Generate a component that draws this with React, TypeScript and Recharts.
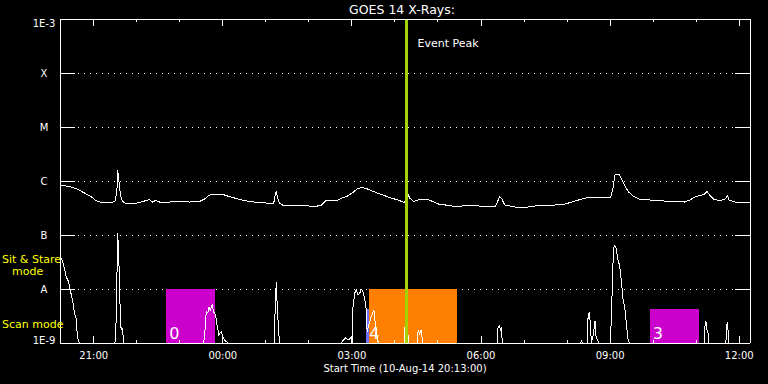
import React from 'react';
import { LineChart, Line, XAxis, YAxis, CartesianGrid, ReferenceArea, ReferenceLine } from 'recharts';

// Time axis: minutes after the start time 10-Aug-14 20:13:00
const TITLE = 'GOES 14 X-Rays:';
const START_LABEL = 'Start Time (10-Aug-14 20:13:00)';
const X_DOMAIN: [number, number] = [0, 962];

const hourTicks = [47, 107, 167, 227, 287, 347, 407, 467, 527, 587, 647, 707, 767, 827, 887, 947];
const majorTickValues = [47, 227, 407, 587, 767, 947];
const majorTickLabels = ['21:00', '00:00', '03:00', '06:00', '09:00', '12:00'];

const yTickValues = [1e-9, 1e-8, 1e-7, 1e-6, 1e-5, 1e-4, 1e-3];
const yTickLabels = ['1E-9', 'A', 'B', 'C', 'M', 'X', '1E-3'];

// 1-8 Angstrom channel (upper curve)
const upperTimes = [
  0, 7.5, 16, 24, 34, 44, 51, 58, 72, 77, 79.4, 80.5, 82, 84.3, 87, 91, 99.6, 108, 117.8, 124.7,
  129, 133, 138.7, 152.6, 166.6, 180.5, 194.5, 201.5, 208.5, 215.4, 225.2, 233.6, 243.3, 253, 264.3, 275.4,
  286.6, 295, 298, 300, 301.5, 303.3, 306, 310.3, 320, 334, 348, 359, 364.6, 370, 378.6, 385.7,
  392.6, 401, 409, 414.9, 421.9, 428.9, 438.7, 448.5, 459.6, 470.7, 480.5, 484, 487.5, 493, 501.5, 511.3,
  519.6, 529.4, 537.7, 550.3, 560, 571, 585, 599, 607.5, 610.3, 613, 616, 620, 627, 634, 648,
  662, 676, 690, 704, 714, 725, 736, 750, 764, 768, 771, 773.8, 779.4, 783.6, 787.8, 792,
  799, 808.5, 822.4, 836.4, 847.5, 861.5, 871, 878, 885, 892, 897.7, 902, 906, 911.6, 920, 927,
  930.8, 932.6, 941, 951, 962,
];
const upperFlux = [
  8.4e-7, 8.1e-7, 7.7e-7, 7.1e-7, 6.0e-7, 5.05e-7, 4.26e-7, 4.0e-7, 4.0e-7, 4.3e-7, 6.8e-7, 1.6e-6, 1.04e-6, 5.5e-7, 4.26e-7, 3.85e-7, 3.75e-7, 3.92e-7, 4.26e-7, 4.54e-7,
  4.08e-7, 4.35e-7, 4.08e-7, 4.08e-7, 4.17e-7, 4.08e-7, 4.17e-7, 4.64e-7, 5.5e-7, 5.74e-7, 5.74e-7, 5.27e-7, 4.84e-7, 4.45e-7, 4.17e-7, 4.0e-7,
  3.92e-7, 3.75e-7, 3.9e-7, 5.5e-7, 6.4e-7, 4.84e-7, 3.92e-7, 3.59e-7, 3.5e-7, 3.5e-7, 3.44e-7, 3.44e-7, 3.59e-7, 4.26e-7, 4.35e-7, 4.26e-7,
  4.84e-7, 5.27e-7, 6.25e-7, 7.26e-7, 7.55e-7, 7.1e-7, 6.25e-7, 5.6e-7, 4.95e-7, 4.45e-7, 4.0e-7, 6.25e-7, 4.84e-7, 4.17e-7, 4.54e-7, 4.64e-7,
  4.17e-7, 3.67e-7, 3.59e-7, 3.37e-7, 3.44e-7, 3.5e-7, 3.44e-7, 3.37e-7, 3.44e-7, 4.26e-7, 5.05e-7, 4.64e-7, 3.59e-7, 3.44e-7, 3.3e-7, 3.23e-7,
  3.44e-7, 3.59e-7, 3.59e-7, 3.75e-7, 4.08e-7, 4.54e-7, 4.95e-7, 4.95e-7, 4.95e-7, 5.05e-7, 7.4e-7, 1.32e-6, 1.32e-6, 1.04e-6, 8.1e-7, 6.4e-7,
  5.27e-7, 4.54e-7, 4.45e-7, 4.35e-7, 4.17e-7, 4.17e-7, 4.08e-7, 4.45e-7, 5.05e-7, 5.4e-7, 5.6e-7, 6.4e-7, 5.4e-7, 4.54e-7, 4.35e-7, 4.54e-7,
  5.4e-7, 4.45e-7, 4.08e-7, 4.0e-7, 3.92e-7,
];

// 0.5-4 Angstrom channel (lower curve)
const lowerTimes = [
  0, 3.8, 6.1, 8.5, 11, 13.1, 16.3, 18.7, 20, 22.5, 23.6, 24.7, 27,
  76.6, 78.3, 79.7, 80.5, 81.9, 82.9, 84, 85.3, 86.4, 87.5, 89.2,
  200, 201.5, 203.9, 206.1, 207.8, 209.4, 212.2, 214, 216.8, 218.6, 221.4, 224.8, 227, 229.4, 234,
  298.5, 300.1, 301.5, 302.9, 304.7, 306,
  392, 394, 398.2, 402.4, 405.2, 407.6, 408.4, 410.8, 413.2, 415.7, 417.8, 420.1, 422.4, 424.8, 427.1, 428.2,
  430.3, 433.8, 437.7, 439.4, 441, 442.4, 443.8,
  479.8, 481, 482, 484, 485.4,
  498, 499.4, 501.5, 503.6, 505.7,
  610, 610.7, 612.4, 614.5, 615.5, 616.6,
  726, 727, 728,
  735.2, 736.3, 738, 739.7, 740.8, 742.2, 743.5, 746, 747, 749.2, 751.2,
  767.3, 769, 770.3, 771.7, 773.1, 774.9, 775.9, 778.1, 780.5, 782.9, 785.1, 787.5, 789.8, 792.1, 793.8,
  898.4, 899.5, 900.5, 902, 903.7, 904.7,
  928.4, 929.4, 930.8, 931.6, 932.6, 962,
];
const lowerFlux = [
  4.2e-8, 3.2e-8, 2.45e-8, 1.69e-8, 1.47e-8, 1.14e-8, 7.2e-9, 5.05e-9, 3.6e-9, 2.9e-9, 1.74e-9, 1.24e-9, 1e-9,
  1e-9, 2.67e-9, 3.03e-8, 1.1e-7, 3.44e-8, 1.69e-8, 3.3e-9, 1.74e-9, 1.9e-9, 1.53e-9, 1e-9,
  1e-9, 1.24e-9, 3.8e-9, 3.59e-9, 4.64e-9, 4.08e-9, 5.05e-9, 3.8e-9, 3.3e-9, 2.3e-9, 1.41e-9, 1.62e-9, 1.31e-9, 1.14e-9, 1e-9,
  1e-9, 4.7e-9, 1.36e-8, 4.7e-9, 1.74e-9, 1e-9,
  1e-9, 1.09e-9, 1.24e-9, 1.14e-9, 1.24e-9, 1e-9, 4.45e-9, 8.4e-9, 9.6e-9, 7.74e-9, 8.3e-9, 9.9e-9, 8.9e-9, 6.7e-9, 4.08e-9, 1.6e-9,
  2.15e-9, 3.03e-9, 4.08e-9, 2.35e-9, 1.74e-9, 1.24e-9, 1e-9,
  1e-9, 1.95e-9, 1e-9, 1.31e-8, 1e-9,
  1e-9, 1.74e-9, 1.47e-9, 1.74e-9, 1e-9,
  1e-9, 1.95e-9, 2.06e-9, 1.74e-9, 1.98e-9, 1e-9,
  1e-9, 1.14e-9, 1e-9,
  1e-9, 3.3e-9, 3.6e-9, 2.06e-9, 1e-9, 1.24e-9, 1.41e-9, 2.55e-9, 1.41e-9, 1.14e-9, 1e-9,
  1e-9, 3.8e-9, 1.58e-8, 5.7e-8, 6.25e-8, 6.0e-8, 4.9e-8, 3.44e-8, 2.59e-8, 1.28e-8, 6.25e-9, 4.4e-9, 2.15e-9, 1.14e-9, 1e-9,
  1e-9, 2.45e-9, 2.55e-9, 1.74e-9, 1.53e-9, 1e-9,
  1e-9, 2.15e-9, 2.45e-9, 1.53e-9, 1e-9, 1e-9,
];

// Observation mode blocks
const blockStarts = [148, 430.3, 427.1, 822.4];
const blockEnds = [216.4, 553.1, 430.3, 890.8];
const blockTops = [1e-8, 1e-8, 4.2e-9, 4.2e-9];
const blockLabels = ['0', '', '4', '3'];
const blockColors = ['#cc00cc', '#ff8000', '#7070ff', '#cc00cc'];

const eventPeakTime = 483.2;
const eventPeakLabel = 'Event Peak';

const upperData = upperTimes.map((t, i) => ({ t, flux: upperFlux[i] }));
const lowerData = lowerTimes.map((t, i) => ({ t, flux: lowerFlux[i] }));

const FONT = '"DejaVu Sans", sans-serif';

const BottomTick = (props: any) => {
  const { x, y, payload } = props;
  const idx = majorTickValues.indexOf(payload.value);
  const len = idx >= 0 ? 7 : 3;
  return (
    <g>
      <line x1={x} x2={x} y1={y} y2={y - len} stroke="#fff" />
      {idx >= 0 && (
        <text x={x} y={y + 16} fill="#fff" fontSize={10} fontFamily={FONT} textAnchor="middle">
          {majorTickLabels[idx]}
        </text>
      )}
    </g>
  );
};

const TopTick = (props: any) => {
  const { x, y, payload } = props;
  const len = majorTickValues.indexOf(payload.value) >= 0 ? 7 : 3;
  return <line x1={x} x2={x} y1={y} y2={y + len} stroke="#fff" />;
};

const LeftTick = (props: any) => {
  const { x, y, payload, index } = props;
  const i = yTickValues.indexOf(payload.value);
  const dy = i === 0 ? -3 : i === yTickValues.length - 1 ? 4 : 0;
  return (
    <g>
      <line x1={x} x2={x + 15} y1={y} y2={y} stroke="#fff" />
      <text x={x - 16} y={y + dy + 4} fill="#ffffff" stroke="none" fontSize={10} fontFamily={FONT} textAnchor="middle">
        {yTickLabels[i >= 0 ? i : index]}
      </text>
    </g>
  );
};

const RightTick = (props: any) => {
  const { x, y } = props;
  return <line x1={x - 15} x2={x} y1={y} y2={y} stroke="#fff" />;
};

export default function App() {
  return (
    <div style={{ position: 'absolute', left: 0, top: 0, width: 768, height: 384, background: '#000' }}>
      <LineChart
        width={768}
        height={384}
        margin={{ top: 0, right: 0, bottom: 0, left: 0 }}
        style={{ shapeRendering: 'crispEdges' }}
      >
        <CartesianGrid vertical={false} stroke="#fff" strokeDasharray="1 5" />
        <XAxis
          dataKey="t"
          type="number"
          domain={X_DOMAIN}
          allowDataOverflow
          ticks={hourTicks}
          height={41}
          tickSize={0}
          tickMargin={0}
          tickLine={false}
          axisLine={{ stroke: '#fff' }}
          tick={<BottomTick />}
          interval={0}
          label={(p: any) => {
            const vb = p.viewBox || { x: 60, y: 343, width: 690 };
            return (
              <text x={vb.x + vb.width / 2} y={vb.y + 29} fill="#fff" fontSize={10} fontFamily={FONT} textAnchor="middle">
                {START_LABEL}
              </text>
            );
          }}
        />
        <XAxis
          xAxisId="top"
          orientation="top"
          type="number"
          dataKey="t"
          domain={X_DOMAIN}
          allowDataOverflow
          ticks={hourTicks}
          height={19}
          tickSize={0}
          tickMargin={0}
          tickLine={false}
          axisLine={{ stroke: '#fff' }}
          tick={<TopTick />}
          interval={0}
        />
        <YAxis
          type="number"
          scale="log"
          domain={[1e-9, 1e-3]}
          allowDataOverflow
          ticks={yTickValues}
          width={60}
          tickSize={0}
          tickMargin={0}
          tickLine={false}
          axisLine={{ stroke: '#fff' }}
          tick={<LeftTick />}
          interval={0}
        />
        <YAxis
          yAxisId="right"
          orientation="right"
          type="number"
          scale="log"
          domain={[1e-9, 1e-3]}
          allowDataOverflow
          ticks={yTickValues}
          width={18}
          tickSize={0}
          tickMargin={0}
          tickLine={false}
          axisLine={{ stroke: '#fff' }}
          tick={<RightTick />}
          interval={0}
        />
        {blockStarts.map((s, i) => (
          <ReferenceArea
            key={i}
            x1={s}
            x2={blockEnds[i]}
            y1={1e-9}
            y2={blockTops[i]}
            fill={blockColors[i]}
            fillOpacity={1}
            stroke="none"
            ifOverflow="hidden"
            label={(p: any) => {
              const vb = p.viewBox;
              if (!vb || !blockLabels[i]) return null;
              return (
                <text x={vb.x + 3} y={vb.y + vb.height - 4} fill="#fff" fontSize={16} fontFamily={FONT}>
                  {blockLabels[i]}
                </text>
              );
            }}
          />
        ))}
        <Line data={upperData} dataKey="flux" stroke="#fff" strokeWidth={1} dot={false} type="linear" isAnimationActive={false} />
        <Line data={lowerData} dataKey="flux" stroke="#fff" strokeWidth={1} dot={false} type="linear" isAnimationActive={false} />
        <ReferenceLine
          x={eventPeakTime}
          stroke="#a3d200"
          strokeWidth={2.5}
          label={(p: any) => {
            const vb = p.viewBox;
            if (!vb) return null;
            return (
              <text x={vb.x + 11} y={vb.y + 28} fill="#fff" fontSize={11} fontFamily={FONT}>
                {eventPeakLabel}
              </text>
            );
          }}
        />
      </LineChart>
      <svg width={768} height={384} style={{ position: 'absolute', left: 0, top: 0, pointerEvents: 'none' }}>
        <text x={402} y={14} fill="#fff" fontSize={12.5} fontFamily={FONT} textAnchor="middle">{TITLE}</text>
        <text x={2} y={263} fill="#ffff00" fontSize={11} fontFamily={FONT}>Sit &amp; Stare</text>
        <text x={12} y={275} fill="#ffff00" fontSize={11} fontFamily={FONT}>mode</text>
        <text x={2} y={328} fill="#ffff00" fontSize={11} fontFamily={FONT}>Scan mode</text>
      </svg>
    </div>
  );
}
